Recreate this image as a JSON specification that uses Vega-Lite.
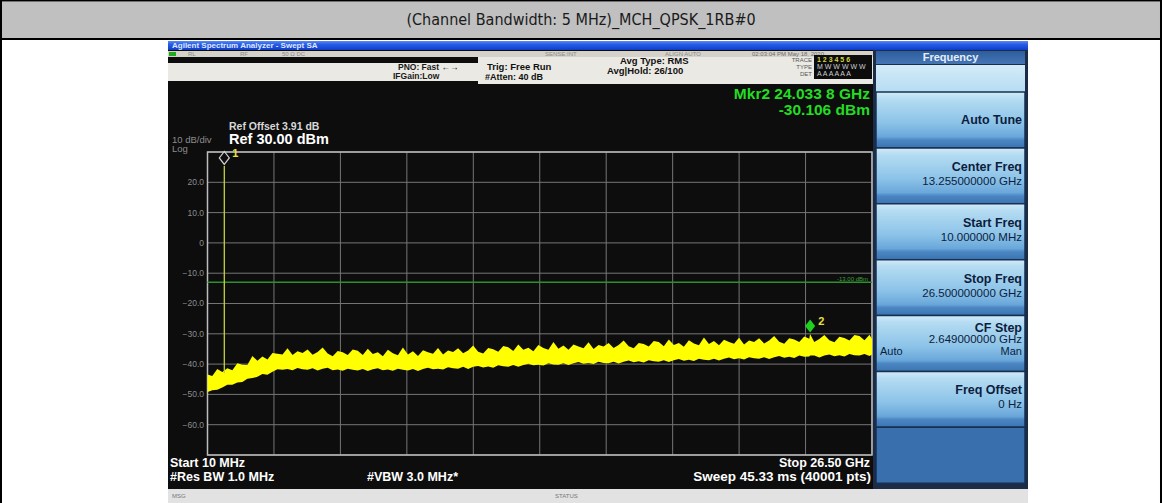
{
"$schema": "https://vega.github.io/schema/vega-lite/v6.json",
"width": 1162, "height": 503, "autosize": "none", "padding": 0, "background": "#ffffff",
"config": {"view": {"stroke": null}, "axis": {"disable": true}, "font": "Liberation Sans"},
"datasets": {
"trace": [
{"f":0.01,"lo":-49.2,"hi":-43.4},{"f":0.2,"lo":-48.6,"hi":-43.9},{"f":0.4,"lo":-48.5,"hi":-41.6},{"f":0.6,"lo":-47.7,"hi":-42.6},{"f":0.8,"lo":-46.8,"hi":-41.4},
{"f":1.0,"lo":-46.8,"hi":-42.0},{"f":1.2,"lo":-46.1,"hi":-39.7},{"f":1.4,"lo":-45.9,"hi":-40.2},{"f":1.6,"lo":-44.8,"hi":-40.3},{"f":1.8,"lo":-44.6,"hi":-37.3},
{"f":2.0,"lo":-44.2,"hi":-38.9},{"f":2.2,"lo":-43.3,"hi":-37.5},{"f":2.4,"lo":-43.5,"hi":-38.5},{"f":2.6,"lo":-42.5,"hi":-36.3},{"f":2.8,"lo":-41.7,"hi":-36.6},
{"f":3.0,"lo":-41.9,"hi":-36.8},{"f":3.2,"lo":-41.6,"hi":-34.8},{"f":3.4,"lo":-42.0,"hi":-37.0},{"f":3.6,"lo":-41.3,"hi":-35.8},{"f":3.8,"lo":-41.7,"hi":-36.3},
{"f":4.0,"lo":-41.9,"hi":-35.2},{"f":4.2,"lo":-41.4,"hi":-36.9},{"f":4.4,"lo":-42.1,"hi":-36.0},{"f":4.6,"lo":-41.5,"hi":-34.5},{"f":4.8,"lo":-41.2,"hi":-36.5},
{"f":5.0,"lo":-42.0,"hi":-37.4},{"f":5.2,"lo":-41.8,"hi":-35.7},{"f":5.4,"lo":-42.2,"hi":-36.1},{"f":5.6,"lo":-41.5,"hi":-37.0},{"f":5.8,"lo":-41.9,"hi":-35.2},
{"f":6.0,"lo":-42.1,"hi":-35.6},{"f":6.2,"lo":-41.6,"hi":-37.0},{"f":6.4,"lo":-42.3,"hi":-34.9},{"f":6.6,"lo":-41.7,"hi":-36.7},{"f":6.8,"lo":-41.4,"hi":-36.1},
{"f":7.0,"lo":-42.0,"hi":-37.4},{"f":7.2,"lo":-41.8,"hi":-35.3},{"f":7.4,"lo":-42.2,"hi":-36.4},{"f":7.6,"lo":-41.5,"hi":-37.1},{"f":7.8,"lo":-41.9,"hi":-34.5},
{"f":8.0,"lo":-42.1,"hi":-36.8},{"f":8.2,"lo":-41.6,"hi":-35.8},{"f":8.4,"lo":-42.3,"hi":-37.3},{"f":8.6,"lo":-41.6,"hi":-35.4},{"f":8.8,"lo":-41.2,"hi":-36.1},
{"f":9.0,"lo":-41.7,"hi":-36.6},{"f":9.2,"lo":-41.5,"hi":-34.7},{"f":9.4,"lo":-41.8,"hi":-36.8},{"f":9.6,"lo":-41.0,"hi":-35.5},{"f":9.8,"lo":-41.4,"hi":-36.0},
{"f":10.0,"lo":-41.5,"hi":-34.8},{"f":10.2,"lo":-40.9,"hi":-36.4},{"f":10.4,"lo":-41.6,"hi":-35.5},{"f":10.6,"lo":-40.9,"hi":-33.9},{"f":10.8,"lo":-40.6,"hi":-35.9},
{"f":11.0,"lo":-41.1,"hi":-36.5},{"f":11.2,"lo":-40.8,"hi":-34.7},{"f":11.4,"lo":-41.2,"hi":-35.1},{"f":11.6,"lo":-40.4,"hi":-35.9},{"f":11.8,"lo":-40.7,"hi":-34.0},
{"f":12.0,"lo":-40.9,"hi":-34.4},{"f":12.2,"lo":-40.3,"hi":-35.7},{"f":12.4,"lo":-40.9,"hi":-33.5},{"f":12.6,"lo":-40.3,"hi":-35.3},{"f":12.8,"lo":-39.9,"hi":-34.6},
{"f":13.0,"lo":-40.4,"hi":-35.8},{"f":13.2,"lo":-40.2,"hi":-33.7},{"f":13.4,"lo":-40.5,"hi":-34.7},{"f":13.6,"lo":-39.7,"hi":-35.3},{"f":13.8,"lo":-40.1,"hi":-32.7},
{"f":14.0,"lo":-40.2,"hi":-34.9},{"f":14.2,"lo":-39.7,"hi":-33.9},{"f":14.4,"lo":-40.3,"hi":-35.3},{"f":14.6,"lo":-39.7,"hi":-33.5},{"f":14.8,"lo":-39.3,"hi":-34.2},
{"f":15.0,"lo":-39.9,"hi":-34.8},{"f":15.2,"lo":-39.6,"hi":-32.8},{"f":15.4,"lo":-40.0,"hi":-35.0},{"f":15.6,"lo":-39.2,"hi":-33.7},{"f":15.8,"lo":-39.6,"hi":-34.2},
{"f":16.0,"lo":-39.7,"hi":-33.0},{"f":16.2,"lo":-39.2,"hi":-34.7},{"f":16.4,"lo":-39.8,"hi":-33.7},{"f":16.6,"lo":-39.2,"hi":-32.2},{"f":16.8,"lo":-38.8,"hi":-34.1},
{"f":17.0,"lo":-39.4,"hi":-34.8},{"f":17.2,"lo":-39.1,"hi":-33.0},{"f":17.4,"lo":-39.5,"hi":-33.4},{"f":17.6,"lo":-38.7,"hi":-34.2},{"f":17.8,"lo":-39.1,"hi":-32.4},
{"f":18.0,"lo":-39.2,"hi":-32.7},{"f":18.2,"lo":-38.7,"hi":-34.1},{"f":18.4,"lo":-39.3,"hi":-31.9},{"f":18.6,"lo":-38.7,"hi":-33.7},{"f":18.8,"lo":-38.3,"hi":-33.0},
{"f":19.0,"lo":-38.9,"hi":-34.3},{"f":19.2,"lo":-38.6,"hi":-32.1},{"f":19.4,"lo":-39.0,"hi":-33.2},{"f":19.6,"lo":-38.2,"hi":-33.8},{"f":19.8,"lo":-38.6,"hi":-31.2},
{"f":20.0,"lo":-38.7,"hi":-33.4},{"f":20.2,"lo":-38.2,"hi":-32.4},{"f":20.4,"lo":-38.8,"hi":-33.8},{"f":20.6,"lo":-38.2,"hi":-32.0},{"f":20.8,"lo":-37.8,"hi":-32.7},
{"f":21.0,"lo":-38.4,"hi":-33.3},{"f":21.2,"lo":-38.1,"hi":-31.3},{"f":21.4,"lo":-38.5,"hi":-33.5},{"f":21.6,"lo":-37.7,"hi":-32.2},{"f":21.8,"lo":-38.1,"hi":-32.7},
{"f":22.0,"lo":-38.2,"hi":-31.5},{"f":22.2,"lo":-37.7,"hi":-33.2},{"f":22.4,"lo":-38.3,"hi":-32.2},{"f":22.6,"lo":-37.7,"hi":-30.7},{"f":22.8,"lo":-37.3,"hi":-32.6},
{"f":23.0,"lo":-37.9,"hi":-33.3},{"f":23.2,"lo":-37.6,"hi":-31.5},{"f":23.4,"lo":-38.0,"hi":-31.9},{"f":23.6,"lo":-37.2,"hi":-32.7},{"f":23.8,"lo":-37.6,"hi":-30.9},
{"f":24.0,"lo":-37.5,"hi":-31.6},{"f":24.03,"lo":-37.2,"hi":-30.1},{"f":24.2,"lo":-37.2,"hi":-32.7},{"f":24.4,"lo":-37.8,"hi":-31.7},{"f":24.6,"lo":-37.2,"hi":-30.4},
{"f":24.8,"lo":-36.8,"hi":-32.1},{"f":25.0,"lo":-37.4,"hi":-32.8},{"f":25.2,"lo":-37.1,"hi":-31.0},{"f":25.4,"lo":-37.5,"hi":-31.4},{"f":25.6,"lo":-36.7,"hi":-32.2},
{"f":25.8,"lo":-37.1,"hi":-30.4},{"f":26.0,"lo":-37.2,"hi":-30.7},{"f":26.2,"lo":-36.7,"hi":-32.1},{"f":26.4,"lo":-37.3,"hi":-30.3},{"f":26.5,"lo":-36.8,"hi":-31.7}
],
"carrier": [{"f":0.68,"lo":-43.0,"hi":25.4}],
"markers": [{"mkr":"1","f":0.68,"db":25.4},{"mkr":"2","f":24.0338,"db":-30.106}],
"vgrid": [{"f":0.01},{"f":2.659},{"f":5.308},{"f":7.957},{"f":10.606},{"f":13.255},{"f":15.904},{"f":18.553},{"f":21.202},{"f":23.851},{"f":26.5}],
"hgrid": [{"db":30},{"db":20},{"db":10},{"db":0},{"db":-10},{"db":-20},{"db":-30},{"db":-40},{"db":-50},{"db":-60},{"db":-70}],
"softkeys": [
{"key":"Auto Tune","val":"","extra":""},
{"key":"Center Freq","val":"13.255000000 GHz","extra":""},
{"key":"Start Freq","val":"10.000000 MHz","extra":""},
{"key":"Stop Freq","val":"26.500000000 GHz","extra":""},
{"key":"CF Step","val":"2.649000000 GHz","extra":"Man"},
{"key":"Freq Offset","val":"0 Hz","extra":""},
{"key":" ","val":"","extra":""}
]
},
"resolve": {"scale": {"y": "independent"}},
"layer": [
{
"data": {"values": [{}]},
"layer": [
{"mark": {"type": "rect", "color": "#c0c0c0"}, "encoding": {"x": {"datum": -8.1822, "scale": {"domain": [-8.2619, 38.0608], "nice": false, "zero": false}}, "x2": {"datum": 37.981}, "y": {"datum": 79.67, "scale": {"domain": [-85.842, 80.165], "nice": false, "zero": false}}, "y2": {"datum": 67.624}}},
{"mark": {"type": "rect", "color": "#000000"}, "encoding": {"x": {"datum": -8.2619}, "x2": {"datum": 38.0608}, "y": {"datum": 80.165}, "y2": {"datum": 79.67}}},
{"mark": {"type": "rect", "color": "#000000"}, "encoding": {"x": {"datum": -8.2619}, "x2": {"datum": 38.0608}, "y": {"datum": 67.624}, "y2": {"datum": 66.964}}},
{"mark": {"type": "rect", "color": "#000000"}, "encoding": {"x": {"datum": -8.2619}, "x2": {"datum": -8.1822}, "y": {"datum": 80.165}, "y2": {"datum": -85.842}}},
{"mark": {"type": "rect", "color": "#000000"}, "encoding": {"x": {"datum": 37.981}, "x2": {"datum": 38.0608}, "y": {"datum": 80.165}, "y2": {"datum": -85.842}}},
{"mark": {"type": "text", "text": "(Channel Bandwidth: 5 MHz)_MCH_QPSK_1RB#0", "font": "Liberation Sans Narrow, DejaVu Sans Condensed, sans-serif", "fontSize": 16, "color": "#1a1a1a"}, "encoding": {"x": {"datum": 14.8994}, "y": {"datum": 73.564}}},

{"mark": {"type": "rect", "color": "#0d0d0d"}, "encoding": {"x": {"datum": -1.5646}, "x2": {"datum": 32.7189}, "y": {"datum": 66.634}, "y2": {"datum": -85.842}}},
{"mark": {"type": "rect", "color": {"gradient": "linear", "x1": 0, "y1": 0, "x2": 0, "y2": 1, "stops": [{"offset": 0, "color": "#5a8cf0"}, {"offset": 0.35, "color": "#2a5ee6"}, {"offset": 1, "color": "#0d3ccc"}]}}, "encoding": {"x": {"datum": -1.5646}, "x2": {"datum": 32.7189}, "y": {"datum": 66.634}, "y2": {"datum": 63.663}}},
{"mark": {"type": "text", "text": "Agilent Spectrum Analyzer - Swept SA", "align": "left", "fontSize": 8, "fontWeight": "bold", "color": "#dfe8ff"}, "encoding": {"x": {"datum": -1.4052}, "y": {"datum": 65.148}}},

{"mark": {"type": "rect", "color": "#d5d2cb"}, "encoding": {"x": {"datum": -1.5646}, "x2": {"datum": 26.5399}, "y": {"datum": 63.333}, "y2": {"datum": 61.353}}},
{"mark": {"type": "rect", "color": "#1faa1f"}, "encoding": {"x": {"datum": -1.5247}, "x2": {"datum": -1.2457}, "y": {"datum": 63.003}, "y2": {"datum": 61.683}}},
{"mark": {"type": "text", "text": "RL", "align": "left", "fontSize": 6, "color": "#8a8a8a"}, "encoding": {"x": {"datum": -0.7674}, "y": {"datum": 62.508}}},
{"mark": {"type": "text", "text": "RF", "align": "left", "fontSize": 6, "color": "#8a8a8a"}, "encoding": {"x": {"datum": 1.3056}, "y": {"datum": 62.508}}},
{"mark": {"type": "text", "text": "50 Ω   DC", "align": "left", "fontSize": 6, "color": "#8a8a8a"}, "encoding": {"x": {"datum": 2.9799}, "y": {"datum": 62.508}}},
{"mark": {"type": "text", "text": "SENSE:INT", "align": "left", "fontSize": 6, "color": "#8a8a8a"}, "encoding": {"x": {"datum": 13.464}, "y": {"datum": 62.508}}},
{"mark": {"type": "text", "text": "ALIGN AUTO", "align": "left", "fontSize": 6, "color": "#8a8a8a"}, "encoding": {"x": {"datum": 18.248}, "y": {"datum": 62.508}}},
{"mark": {"type": "text", "text": "02:03:04 PM May 18, 2020", "align": "left", "fontSize": 6, "color": "#6c6c6c"}, "encoding": {"x": {"datum": 21.7163}, "y": {"datum": 62.508}}},

{"mark": {"type": "rect", "color": "#ebe9e3"}, "encoding": {"x": {"datum": -1.5646}, "x2": {"datum": 10.7934}, "y": {"datum": 59.373}, "y2": {"datum": 53.432}}},
{"mark": {"type": "rect", "color": "#ebe9e3"}, "encoding": {"x": {"datum": 10.7934}, "x2": {"datum": 26.5399}, "y": {"datum": 61.353}, "y2": {"datum": 52.442}}},
{"mark": {"type": "text", "text": "PNO: Fast ←→", "align": "left", "fontSize": 8.5, "fontWeight": "bold", "color": "#1a1a1a"}, "encoding": {"x": {"datum": 7.6041}, "y": {"datum": 57.888}}},
{"mark": {"type": "text", "text": "IFGain:Low", "align": "left", "fontSize": 8.5, "fontWeight": "bold", "color": "#1a1a1a"}, "encoding": {"x": {"datum": 7.4049}, "y": {"datum": 55.083}}},
{"mark": {"type": "text", "text": "Trig: Free Run", "align": "left", "fontSize": 9.5, "fontWeight": "bold", "color": "#111111"}, "encoding": {"x": {"datum": 11.1521}, "y": {"datum": 57.888}}},
{"mark": {"type": "text", "text": "#Atten: 40 dB", "align": "left", "fontSize": 9, "fontWeight": "bold", "color": "#111111"}, "encoding": {"x": {"datum": 11.0724}, "y": {"datum": 54.753}}},
{"mark": {"type": "text", "text": "Avg Type: RMS", "align": "left", "fontSize": 9.5, "fontWeight": "bold", "color": "#111111"}, "encoding": {"x": {"datum": 16.4541}, "y": {"datum": 59.868}}},
{"mark": {"type": "text", "text": "Avg|Hold: 26/100", "align": "left", "fontSize": 9.5, "fontWeight": "bold", "color": "#111111"}, "encoding": {"x": {"datum": 15.9359}, "y": {"datum": 56.733}}},
{"mark": {"type": "text", "text": "TRACE", "align": "right", "fontSize": 6, "color": "#555555"}, "encoding": {"x": {"datum": 24.1081}, "y": {"datum": 60.363}}},
{"mark": {"type": "text", "text": "TYPE", "align": "right", "fontSize": 6, "color": "#555555"}, "encoding": {"x": {"datum": 24.1081}, "y": {"datum": 58.053}}},
{"mark": {"type": "text", "text": "DET", "align": "right", "fontSize": 6, "color": "#555555"}, "encoding": {"x": {"datum": 24.1081}, "y": {"datum": 55.743}}},
{"mark": {"type": "rect", "color": "#0c0c0c"}, "encoding": {"x": {"datum": 24.1879}, "x2": {"datum": 26.5}, "y": {"datum": 62.013}, "y2": {"datum": 54.092}}},
{"mark": {"type": "text", "text": "1 2 3 4 5 6", "align": "left", "fontSize": 7, "fontWeight": "bold", "color": "#d6d640"}, "encoding": {"x": {"datum": 24.3075}, "y": {"datum": 60.363}}},
{"mark": {"type": "text", "text": "M W W W W W", "align": "left", "fontSize": 7, "color": "#cfcfcf"}, "encoding": {"x": {"datum": 24.3075}, "y": {"datum": 58.053}}},
{"mark": {"type": "text", "text": "A A A A A A", "align": "left", "fontSize": 7, "color": "#cfcfcf"}, "encoding": {"x": {"datum": 24.3075}, "y": {"datum": 55.743}}},

{"mark": {"type": "rect", "color": "#1c2c46"}, "encoding": {"x": {"datum": 26.5399}, "x2": {"datum": 32.7189}, "y": {"datum": 63.663}, "y2": {"datum": -81.221}}},
{"mark": {"type": "rect", "color": {"gradient": "linear", "x1": 0, "y1": 0, "x2": 0, "y2": 1, "stops": [{"offset": 0, "color": "#2d5d9e"}, {"offset": 1, "color": "#4575b4"}]}}, "encoding": {"x": {"datum": 26.6595}, "x2": {"datum": 32.5993}, "y": {"datum": 63.333}, "y2": {"datum": 59.043}}},
{"mark": {"type": "text", "text": "Frequency", "fontSize": 11, "fontWeight": "bold", "color": "#e6eefa"}, "encoding": {"x": {"datum": 29.6294}, "y": {"datum": 61.188}}},
{"mark": {"type": "rect", "color": {"gradient": "linear", "x1": 0, "y1": 0, "x2": 0, "y2": 1, "stops": [{"offset": 0, "color": "#d3ebf8"}, {"offset": 1, "color": "#b5dcf2"}]}}, "encoding": {"x": {"datum": 26.6595}, "x2": {"datum": 32.5993}, "y": {"datum": 58.713}, "y2": {"datum": 49.472}}},

{"mark": {"type": "rect", "color": "#e2e2e2"}, "encoding": {"x": {"datum": -1.5646}, "x2": {"datum": 32.7189}, "y": {"datum": -81.221}, "y2": {"datum": -85.842}}},
{"mark": {"type": "text", "text": "MSG", "align": "left", "fontSize": 6, "color": "#777777"}, "encoding": {"x": {"datum": -1.4052}, "y": {"datum": -83.531}}},
{"mark": {"type": "text", "text": "STATUS", "align": "left", "fontSize": 6, "color": "#777777"}, "encoding": {"x": {"datum": 13.8627}, "y": {"datum": -83.531}}},

{"mark": {"type": "text", "text": "Ref Offset 3.91 dB", "align": "left", "fontSize": 10.5, "fontWeight": "bold", "color": "#d8d8d8"}, "encoding": {"x": {"datum": 0.8671}, "y": {"datum": 38.251}}},
{"mark": {"type": "text", "text": "Ref 30.00 dBm", "align": "left", "fontSize": 14.5, "fontWeight": "bold", "color": "#ffffff"}, "encoding": {"x": {"datum": 0.8671}, "y": {"datum": 33.96}}},
{"mark": {"type": "text", "text": "10 dB/div", "align": "left", "fontSize": 9.5, "color": "#8c8c8c"}, "encoding": {"x": {"datum": -1.4052}, "y": {"datum": 34.125}}},
{"mark": {"type": "text", "text": "Log", "align": "left", "fontSize": 9.5, "color": "#8c8c8c"}, "encoding": {"x": {"datum": -1.4052}, "y": {"datum": 30.99}}},
{"mark": {"type": "text", "text": "Mkr2 24.033 8 GHz", "align": "right", "fontSize": 15.5, "fontWeight": "bold", "color": "#22dd22"}, "encoding": {"x": {"datum": 26.4203}, "y": {"datum": 48.977}}},
{"mark": {"type": "text", "text": "-30.106 dBm", "align": "right", "fontSize": 15.5, "fontWeight": "bold", "color": "#22dd22"}, "encoding": {"x": {"datum": 26.4203}, "y": {"datum": 43.861}}},

{"data": {"name": "vgrid"}, "mark": {"type": "rule", "color": "#767676", "strokeWidth": 1}, "encoding": {"x": {"field": "f", "type": "quantitative"}, "y": {"datum": -70}, "y2": {"datum": 30}}},
{"data": {"name": "hgrid"}, "mark": {"type": "rule", "color": "#767676", "strokeWidth": 1}, "encoding": {"y": {"field": "db", "type": "quantitative"}, "x": {"datum": 0.01}, "x2": {"datum": 26.5}}},
{"mark": {"type": "rect", "filled": false, "color": "#bdbdbd", "strokeWidth": 1.5}, "encoding": {"x": {"datum": 0.01}, "x2": {"datum": 26.5}, "y": {"datum": 30}, "y2": {"datum": -70}}},
{"data": {"name": "hgrid"}, "transform": [{"filter": "datum.db > -70 && datum.db < 30"}], "mark": {"type": "text", "align": "right", "fontSize": 8.5, "color": "#8c8c8c"}, "encoding": {"x": {"datum": -0.13}, "y": {"field": "db", "type": "quantitative"}, "text": {"field": "db", "type": "quantitative", "format": ".3r"}}},

{"mark": {"type": "rule", "color": "#2f8f2f", "strokeWidth": 1.5}, "encoding": {"x": {"datum": 0.01}, "x2": {"datum": 26.5}, "y": {"datum": -13}}},
{"mark": {"type": "text", "text": "-13.00 dBm", "align": "right", "fontSize": 6, "dy": -3, "color": "#3aa03a"}, "encoding": {"x": {"datum": 26.34}, "y": {"datum": -13}}},

{"data": {"name": "trace"}, "mark": {"type": "area", "color": "#ffff00"}, "encoding": {"x": {"field": "f", "type": "quantitative"}, "y": {"field": "lo", "type": "quantitative"}, "y2": {"field": "hi"}}},
{"data": {"name": "carrier"}, "mark": {"type": "rule", "color": "#c6d23c", "strokeWidth": 1.3}, "encoding": {"x": {"field": "f", "type": "quantitative"}, "y": {"field": "lo", "type": "quantitative"}, "y2": {"field": "hi"}}},
{"data": {"name": "markers"}, "transform": [{"filter": "datum.mkr == '1'"}], "mark": {"type": "point", "shape": "M0,-0.3L1,-1.6L0,-2.9L-1,-1.6Z", "size": 100, "filled": false, "color": "#d0d0d0", "strokeWidth": 1.2, "opacity": 1}, "encoding": {"x": {"field": "f", "type": "quantitative"}, "y": {"field": "db", "type": "quantitative"}}},
{"data": {"name": "markers"}, "transform": [{"filter": "datum.mkr == '2'"}], "mark": {"type": "point", "shape": "M0,-0.3L1,-1.6L0,-2.9L-1,-1.6Z", "size": 100, "filled": true, "color": "#20d020", "opacity": 1}, "encoding": {"x": {"field": "f", "type": "quantitative"}, "y": {"field": "db", "type": "quantitative"}}},
{"data": {"name": "markers"}, "mark": {"type": "text", "align": "left", "dx": 8, "dy": -12, "fontSize": 11, "fontWeight": "bold", "color": "#e8e040"}, "encoding": {"x": {"field": "f", "type": "quantitative"}, "y": {"field": "db", "type": "quantitative"}, "text": {"field": "mkr"}}},

{"mark": {"type": "text", "text": "Start 10 MHz", "align": "left", "fontSize": 12.5, "fontWeight": "bold", "color": "#ffffff"}, "encoding": {"x": {"datum": -1.4849}, "y": {"datum": -72.805}}},
{"mark": {"type": "text", "text": "#Res BW 1.0 MHz", "align": "left", "fontSize": 12.5, "fontWeight": "bold", "color": "#ffffff"}, "encoding": {"x": {"datum": -1.4849}, "y": {"datum": -77.261}}},
{"mark": {"type": "text", "text": "#VBW 3.0 MHz*", "align": "center", "fontSize": 12.5, "fontWeight": "bold", "color": "#ffffff"}, "encoding": {"x": {"datum": 8.1822}, "y": {"datum": -77.261}}},
{"mark": {"type": "text", "text": "Stop 26.50 GHz", "align": "right", "fontSize": 12.5, "fontWeight": "bold", "color": "#ffffff"}, "encoding": {"x": {"datum": 26.4203}, "y": {"datum": -72.805}}},
{"mark": {"type": "text", "text": "Sweep    45.33 ms (40001 pts)", "align": "right", "fontSize": 13.5, "fontWeight": "bold", "color": "#ffffff"}, "encoding": {"x": {"datum": 26.4602}, "y": {"datum": -77.261}}}
]
},
{
"data": {"name": "softkeys"},
"layer": [
{"transform": [{"filter": "datum.key != ' '"}], "mark": {"type": "rect", "color": {"gradient": "linear", "x1": 0, "y1": 0, "x2": 0, "y2": 1, "stops": [{"offset": 0, "color": "#d3ebf8"}, {"offset": 0.12, "color": "#b5dcf2"}, {"offset": 0.55, "color": "#8cc3e8"}, {"offset": 0.8, "color": "#6aa7da"}, {"offset": 0.86, "color": "#4b86c2"}, {"offset": 1, "color": "#3b73b2"}]}, "stroke": "#163052", "strokeWidth": 1.5}, "encoding": {"x": {"datum": 26.6595}, "x2": {"datum": 32.5993}, "y": {"field": "key", "type": "nominal", "sort": null, "axis": null, "scale": {"type": "band", "domain": ["Auto Tune", "Center Freq", "Start Freq", "Stop Freq", "CF Step", "Freq Offset", " "], "paddingInner": 0, "paddingOuter": 1.014, "align": 0.823, "round": false}}}},
{"transform": [{"filter": "datum.key == ' '"}], "mark": {"type": "rect", "color": "#3a6fad", "stroke": "#163052", "strokeWidth": 1.5}, "encoding": {"x": {"datum": 26.6595}, "x2": {"datum": 32.5993}, "y": {"field": "key", "type": "nominal", "axis": null}}},
{"transform": [{"filter": "datum.val != '' && datum.extra == ''"}], "mark": {"type": "text", "align": "right", "dy": -9, "fontSize": 12.5, "fontWeight": "bold", "color": "#0c1d3d"}, "encoding": {"x": {"datum": 32.4797}, "y": {"field": "key", "type": "nominal", "axis": null}, "text": {"field": "key"}}},
{"transform": [{"filter": "datum.val == '' && datum.key != ' '"}], "mark": {"type": "text", "align": "right", "fontSize": 12.5, "fontWeight": "bold", "color": "#0c1d3d"}, "encoding": {"x": {"datum": 32.4797}, "y": {"field": "key", "type": "nominal", "axis": null}, "text": {"field": "key"}}},
{"transform": [{"filter": "datum.extra != ''"}], "mark": {"type": "text", "align": "right", "dy": -15, "fontSize": 12.5, "fontWeight": "bold", "color": "#0c1d3d"}, "encoding": {"x": {"datum": 32.4797}, "y": {"field": "key", "type": "nominal", "axis": null}, "text": {"field": "key"}}},
{"transform": [{"filter": "datum.val != '' && datum.extra == ''"}], "mark": {"type": "text", "align": "right", "dy": 6, "fontSize": 11.5, "color": "#0c1d3d"}, "encoding": {"x": {"datum": 32.4797}, "y": {"field": "key", "type": "nominal", "axis": null}, "text": {"field": "val"}}},
{"transform": [{"filter": "datum.extra != ''"}], "mark": {"type": "text", "align": "right", "dy": -3, "fontSize": 11.5, "color": "#0c1d3d"}, "encoding": {"x": {"datum": 32.4797}, "y": {"field": "key", "type": "nominal", "axis": null}, "text": {"field": "val"}}},
{"transform": [{"filter": "datum.extra != ''"}], "mark": {"type": "text", "align": "right", "dy": 9, "fontSize": 11, "color": "#0c1d3d"}, "encoding": {"x": {"datum": 32.4797}, "y": {"field": "key", "type": "nominal", "axis": null}, "text": {"field": "extra"}}},
{"transform": [{"filter": "datum.extra != ''"}], "mark": {"type": "text", "align": "left", "dy": 9, "fontSize": 11, "color": "#0c1d3d", "text": "Auto"}, "encoding": {"x": {"datum": 26.8189}, "y": {"field": "key", "type": "nominal", "axis": null}}}
]
}
]
}
